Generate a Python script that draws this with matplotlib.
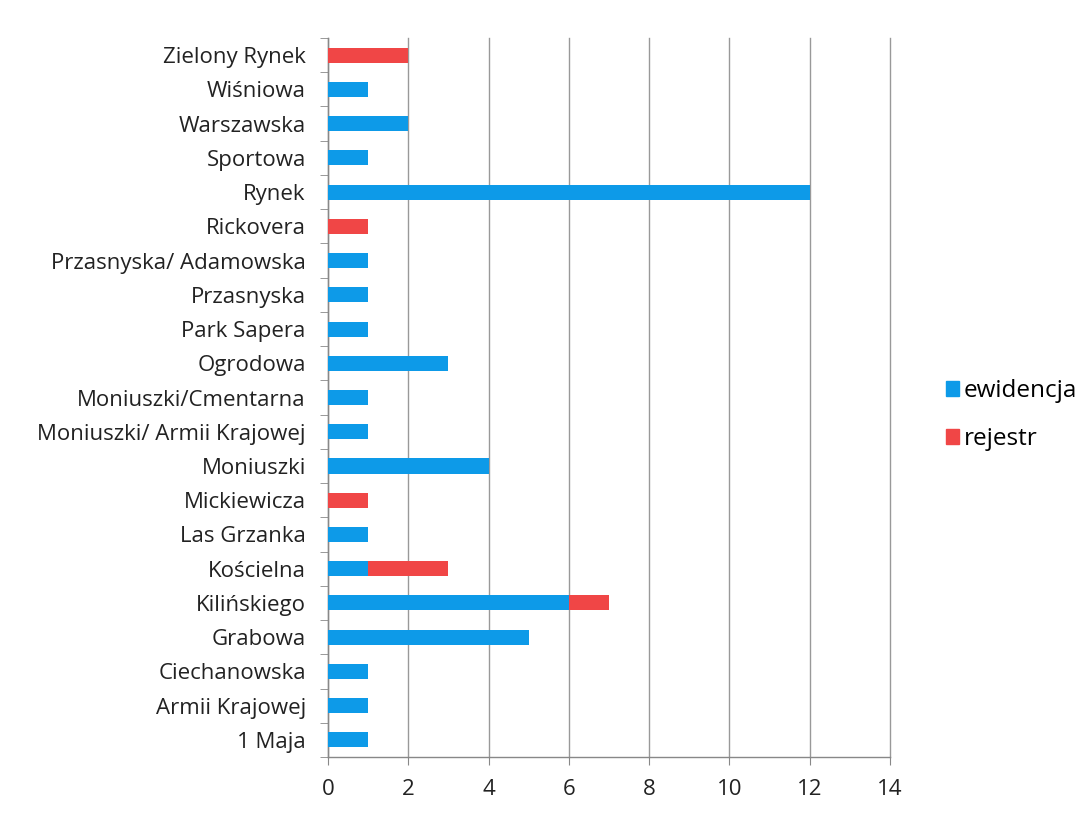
import matplotlib
matplotlib.use("Agg")
import matplotlib.pyplot as plt
from matplotlib.patches import Patch
import numpy as np

# ulice od dołu do góry
ulice = ["1 Maja", "Armii Krajowej", "Ciechanowska", "Grabowa", "Kilińskiego",
         "Kościelna", "Las Grzanka", "Mickiewicza", "Moniuszki",
         "Moniuszki/ Armii Krajowej", "Moniuszki/Cmentarna", "Ogrodowa",
         "Park Sapera", "Przasnyska", "Przasnyska/ Adamowska", "Rickovera",
         "Rynek", "Sportowa", "Warszawska", "Wiśniowa", "Zielony Rynek"]
ewidencja = [1, 1, 1, 5, 6, 1, 1, 0, 4, 1, 1, 3, 1, 1, 1, 0, 12, 1, 2, 1, 0]
rejestr = [0, 0, 0, 0, 1, 2, 0, 1, 0, 0, 0, 0, 0, 0, 0, 1, 0, 0, 0, 0, 2]

NIEB = "#0d9ae8"
CZER = "#f04646"

plt.rcParams["font.family"] = ["Open Sans", "DejaVu Sans"]

fig = plt.figure(figsize=(10.83, 8.14), dpi=100)
ax = fig.add_axes([0.3029, 0.0700, 0.5189, 0.8833])

y = np.arange(len(ulice))
h = 0.44
ax.barh(y, ewidencja, h, color=NIEB, zorder=3)
ax.barh(y, rejestr, h, left=ewidencja, color=CZER, zorder=3)

ax.set_xlim(0, 14)
ax.set_ylim(-0.5, len(ulice) - 0.5)
ax.set_xticks(range(0, 15, 2))
ax.set_yticks(y)
ax.set_yticklabels(ulice)
ax.set_yticks(np.arange(-0.5, len(ulice), 1.0), minor=True)
ax.tick_params(axis="y", which="major", length=0, pad=16, labelsize=16, labelcolor="#222222")
ax.tick_params(axis="y", which="minor", length=6, color="#888888")
ax.tick_params(axis="x", length=6, color="#888888", labelsize=16, labelcolor="#222222", pad=10)
ax.grid(axis="x", color="#999999", lw=1.0, zorder=0)
for gl in ax.get_xgridlines():
    gl.set_clip_on(False)

for s in ["top", "right"]:
    ax.spines[s].set_visible(False)
for s in ["left", "bottom"]:
    ax.spines[s].set_color("#888888")
    ax.spines[s].set_linewidth(1.0)

uchwyty = [Patch(color=NIEB, label="ewidencja"), Patch(color=CZER, label="rejestr")]
fig.legend(handles=uchwyty, loc="center left", bbox_to_anchor=(0.853, 0.49),
           frameon=False, fontsize=17.5, handlelength=0.55, handleheight=0.55,
           handletextpad=0.2, labelspacing=1.0)

fig.savefig("out.png", dpi=100)
